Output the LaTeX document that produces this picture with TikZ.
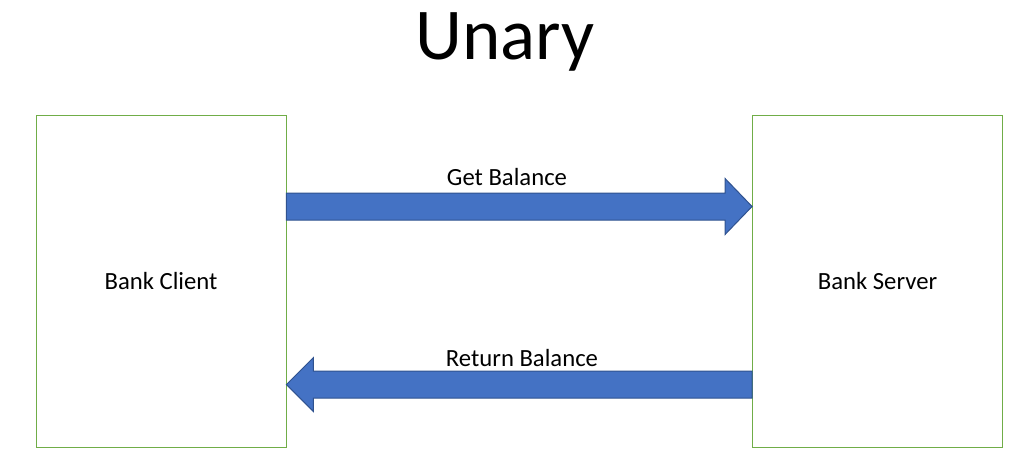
\documentclass[tikz,border=0pt]{standalone}
\usepackage{fontspec}
\setmainfont{Carlito}
\usetikzlibrary{calc,positioning}
\definecolor{boxg}{RGB}{112,173,71}
\definecolor{arrf}{RGB}{68,114,196}
\definecolor{arrd}{RGB}{47,82,143}
\tikzset{
  party/.style={rectangle,draw=boxg,line width=0.9pt,fill=white,
    minimum width=250pt,minimum height=332pt,inner sep=0pt,font=\fontsize{24.7}{28}\selectfont},
  msg/.style={font=\fontsize{24.7}{28}\selectfont},
  blockarr/.style={draw=arrd,fill=arrf,line width=1pt,line join=miter},
}
\begin{document}
\begin{tikzpicture}[x=1pt,y=-1pt]
        \useasboundingbox (0,0) rectangle (1023,463);
        \node[font=\fontsize{73}{76}\selectfont] (title) at (505,42) {Unary};
        \node[party] (client) at (161,281) {Bank Client};
        \node[party] (server) at (877.5,281) {Bank Server};
        % request
        \coordinate (gtail) at ($(client.east)+(0,-74.5)$);
        \coordinate (gtip) at ($(server.west)+(0,-74.5)$);
        \draw[blockarr] ($(gtail)+(0,-13.5)$) -- ($(gtip)+(-27,-13.5)$) -- ($(gtip)+(-27,-28)$)
          -- (gtip) -- ($(gtip)+(-27,28)$) -- ($(gtip)+(-27,13.5)$) -- ($(gtail)+(0,13.5)$) -- cycle;
        \node[msg] (get) at (507,177) {Get Balance};
        % response
        \coordinate (rtail) at ($(server.west)+(0,103.5)$);
        \coordinate (rtip) at ($(client.east)+(0,103.5)$);
        \draw[blockarr] ($(rtail)+(0,-13.5)$) -- ($(rtip)+(27,-13.5)$) -- ($(rtip)+(27,-27)$)
          -- (rtip) -- ($(rtip)+(27,27)$) -- ($(rtip)+(27,13.5)$) -- ($(rtail)+(0,13.5)$) -- cycle;
        \node[msg] (ret) at (522,358) {Return Balance};
      \end{tikzpicture}
\end{document}
